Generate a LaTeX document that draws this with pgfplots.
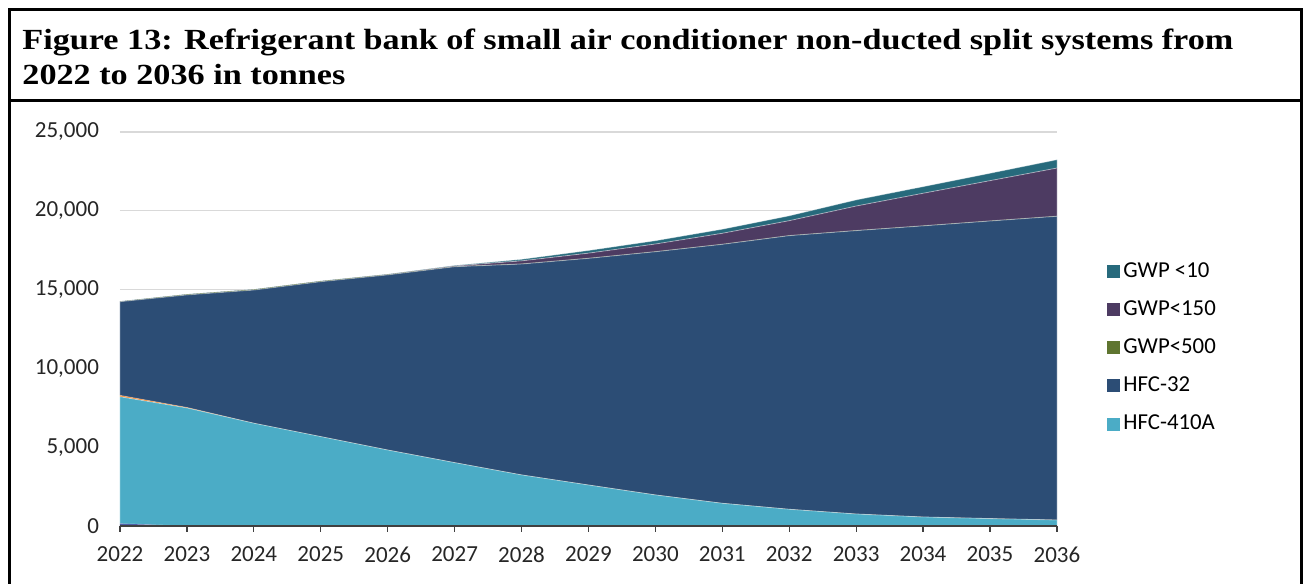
\documentclass[border=0pt]{standalone}
\usepackage{fontspec}
\setmainfont{Carlito}
\newfontfamily\titlefont{Liberation Serif}
\usepackage{graphicx}
\usepackage{pgfplots}
\pgfplotsset{compat=1.18}
\usepackage{pgfplotstable}
\definecolor{cA}{HTML}{4BACC6}
\definecolor{cB}{HTML}{2C4D75}
\definecolor{cC}{HTML}{5F7530}
\definecolor{cD}{HTML}{4D3B62}
\definecolor{cE}{HTML}{276A7C}
\definecolor{cO}{HTML}{F79646}
\definecolor{cX}{HTML}{4F5FA8}
\pgfplotstableread{
year other r410 orng hfc32 g500 g150 g10
2022 150 8050 90 5940 10 0 20
2023 0 7490 30 7140 30 0 20
2024 0 6520 0 8450 30 0 20
2025 0 5670 0 9830 30 0 20
2026 0 4820 0 11110 20 10 20
2027 0 4020 0 12430 10 40 30
2028 0 3240 0 13380 10 190 100
2029 0 2600 0 14380 10 320 170
2030 0 1970 0 15430 10 480 210
2031 0 1440 0 16430 10 690 260
2032 0 1060 0 17360 10 940 310
2033 0 760 0 17980 10 1550 390
2034 0 570 0 18470 10 2060 420
2035 0 470 0 18880 10 2550 470
2036 0 380 0 19270 10 3050 530
}\datatab
\begin{document}
\newsavebox\tA\newsavebox\tB\newdimen\tw
\sbox\tA{\titlefont\bfseries\fontsize{14.6}{17}\selectfont Figure 13: Refrigerant bank of small air conditioner non-ducted split systems from}%
\sbox\tB{\titlefont\bfseries\fontsize{14.6}{17}\selectfont 2022 to 2036 in tonnes}%
\tw=\wd\tA
\pgfmathsetmacro\sx{605.5/\tw}%
\begin{tikzpicture}[x=1pt,y=1pt]
\useasboundingbox (-60,-29) rectangle (591.5,263);
\begin{axis}[
  at={(0,0)}, anchor=south west,
  scale only axis, width=468.5pt, height=197pt,
  stack plots=y, area style, enlarge x limits=false,
  axis on top=false,
  xmin=2022, xmax=2036, ymin=0, ymax=25000,
  xtick={2022,...,2036}, ytick={0,5000,...,25000},
  scaled y ticks=false,
  /pgf/number format/assume math mode=true,
  x tick label style={/pgf/number format/1000 sep={}, yshift=-4pt},
  y tick label style={/pgf/number format/1000 sep={,}, xshift=-4pt},
  tick label style={font=\fontsize{11.5}{13}\selectfont, text=black!85},
  ymajorgrids, grid style={draw=black!15, line width=0.6pt},
  axis x line*=bottom, axis y line*=left,
  y axis line style={draw=none}, ytick style={draw=none},
  x axis line style={draw=black!75, line width=0.6pt},
  xtick style={draw=black!75, line width=0.6pt},
  tick align=outside, major tick length=3pt,
  reverse legend, legend cell align=left,
  legend style={draw=none, fill=none, at={(1.0534,0.6777)}, anchor=north west,
    font=\fontsize{11.4}{13}\selectfont, row sep=7.2pt, inner sep=0pt,
    nodes={inner sep=1.5pt}},
  legend image code/.code={\fill[#1,draw=none] (0pt,-3.25pt) rectangle (6.5pt,3.25pt);},
]
\addplot[fill=cX, draw=none, forget plot] table[x=year,y=other]{\datatab} \closedcycle;
\addplot[fill=cA, draw=white, draw opacity=0.35, line width=0.4pt] table[x=year,y=r410]{\datatab} \closedcycle;
\addlegendentry{HFC-410A}
\addplot[fill=cO, draw=none, forget plot] table[x=year,y=orng]{\datatab} \closedcycle;
\addplot[fill=cB, draw=white, draw opacity=0.35, line width=0.4pt] table[x=year,y=hfc32]{\datatab} \closedcycle;
\addlegendentry{HFC-32}
\addplot[fill=cC, draw=none] table[x=year,y=g500]{\datatab} \closedcycle;
\addlegendentry{GWP<500}
\addplot[fill=cD, draw=white, draw opacity=0.35, line width=0.4pt] table[x=year,y=g150]{\datatab} \closedcycle;
\addlegendentry{GWP<150}
\addplot[fill=cE, draw=white, draw opacity=0.35, line width=0.4pt] table[x=year,y=g10]{\datatab} \closedcycle;
\addlegendentry{GWP <10}
\end{axis}
\draw[black!75, line width=0.6pt] (0,0) -- (468.5,0);
\node[anchor=base west, inner sep=0pt] at (-49,238) {\scalebox{\sx}[1]{\usebox\tA}};
\node[anchor=base west, inner sep=0pt] at (-49,220.5) {\scalebox{\sx}[1]{\usebox\tB}};
\draw[line width=1.5pt] (-55,-30) -- (-55,258) -- (590.5,258) -- (590.5,-30);
\draw[line width=1.5pt] (-55,212.5) -- (590.5,212.5);
\end{tikzpicture}
\end{document}
